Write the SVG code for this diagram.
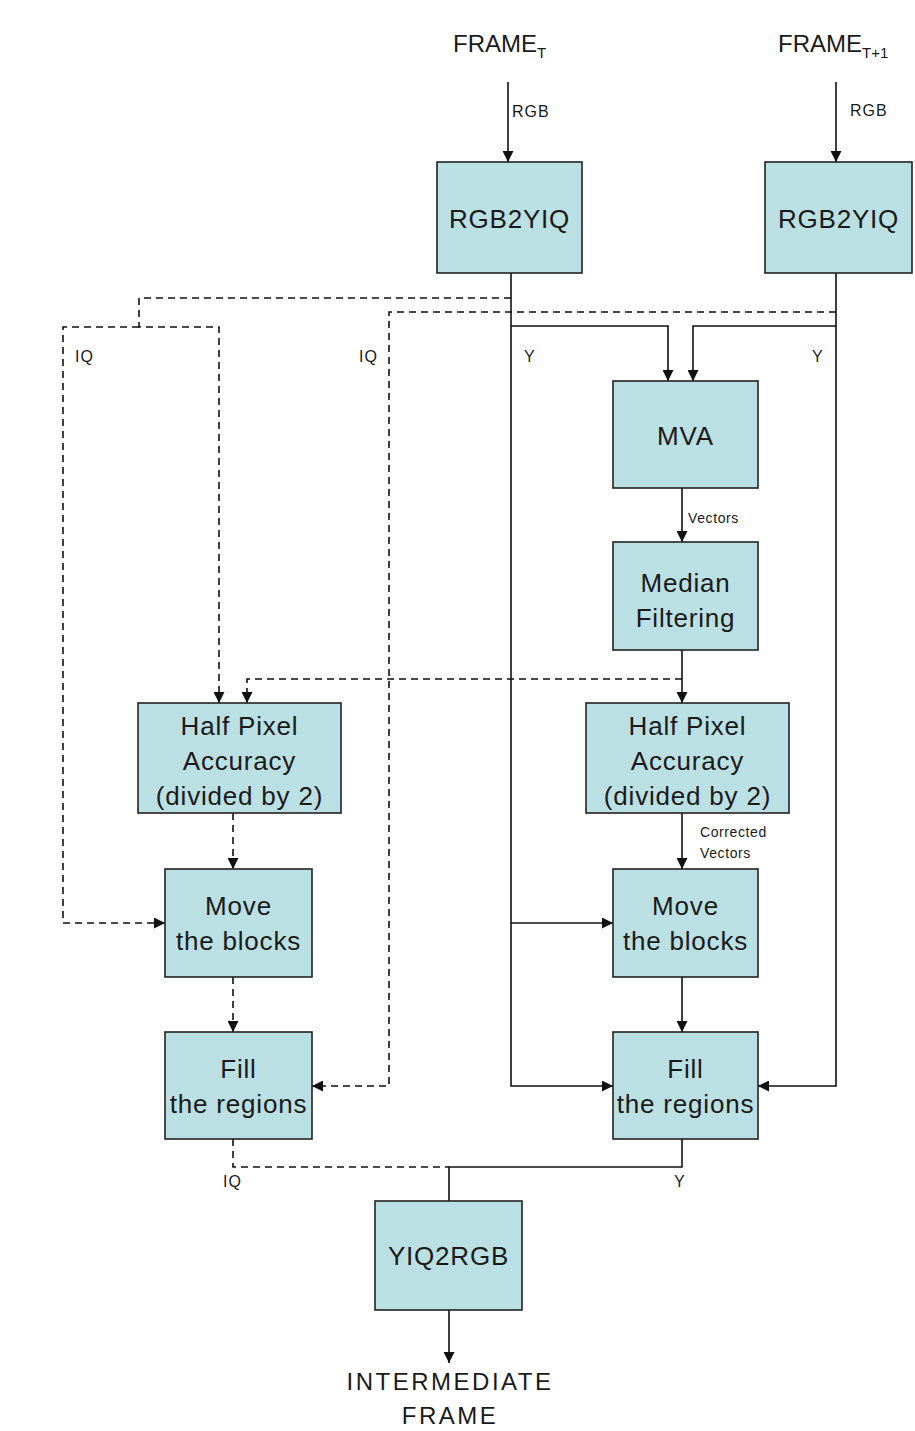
<svg xmlns="http://www.w3.org/2000/svg" width="915" height="1431" viewBox="0 0 915 1431">
<defs>
<marker id="ah" markerUnits="userSpaceOnUse" markerWidth="11" markerHeight="11" refX="11" refY="5.5" orient="auto">
<path d="M0,0 L11,5.5 L0,11 z" fill="#111"/>
</marker>
<style>
.box{fill:#BBE0E3;stroke:#222;stroke-width:1.6}
.bt{font-family:"Liberation Sans",Arial,sans-serif;font-size:26px;fill:#1a1a1a;text-anchor:middle;letter-spacing:0.8px}
.big{font-family:"Liberation Sans",Arial,sans-serif;font-size:24px;fill:#1a1a1a}
.lbl{font-family:"Liberation Sans",Arial,sans-serif;font-size:16px;fill:#1a1a1a;letter-spacing:1px}
.sm{font-family:"Liberation Sans",Arial,sans-serif;font-size:14px;fill:#1a1a1a;letter-spacing:0.6px}
.ln{fill:none;stroke:#111;stroke-width:1.6}
.dl{fill:none;stroke:#111;stroke-width:1.6;stroke-dasharray:7 5}
.arr{marker-end:url(#ah)}
</style>
</defs>
<rect width="915" height="1431" fill="#ffffff"/>

<g id="connectors">
<path class="ln arr" d="M508,82 V162"/>
<path class="ln arr" d="M836,82 V162"/>
<path class="ln arr" d="M511,273 V1086 H613"/>
<path class="ln arr" d="M511,326 H668 V381"/>
<path class="ln arr" d="M511,923 H613"/>
<path class="ln arr" d="M836,273 V1086 H758"/>
<path class="ln arr" d="M836,326 H693 V381"/>
<path class="ln arr" d="M682,488 V542"/>
<path class="ln arr" d="M682,650 V703"/>
<path class="ln arr" d="M682,813 V869"/>
<path class="ln arr" d="M682,977 V1032"/>
<path class="ln" d="M682,1139 V1167 H449 V1201"/>
<path class="ln arr" d="M449,1310 V1363"/>
<path class="dl arr" d="M511,298 H139 V327 H219 V703"/>
<path class="dl arr" d="M139,327 H63 V923 H165"/>
<path class="dl arr" d="M836,312 H389 V1086 H312"/>
<path class="dl arr" d="M682,679 H247 V703"/>
<path class="dl arr" d="M233,813 V869"/>
<path class="dl arr" d="M233,977 V1032"/>
<path class="dl" d="M233,1139 V1167 H449"/>
<text class="lbl" x="512" y="117">RGB</text>
<text class="lbl" x="850" y="116">RGB</text>
<text class="lbl" x="75" y="362">IQ</text>
<text class="lbl" x="359" y="362">IQ</text>
<text class="lbl" x="524" y="362">Y</text>
<text class="lbl" x="812" y="362">Y</text>
<text class="sm" x="688" y="523">Vectors</text>
<text class="sm" x="700" y="837">Corrected</text>
<text class="sm" x="700" y="858">Vectors</text>
<text class="lbl" x="223" y="1187">IQ</text>
<text class="lbl" x="674" y="1187">Y</text>
</g>

<g id="frame-t">
<text class="big" x="453" y="52">FRAME<tspan font-size="15" dy="6">T</tspan></text>
</g>
<g id="frame-t1">
<text class="big" x="778" y="52">FRAME<tspan font-size="15" dy="6">T+1</tspan></text>
</g>

<g id="rgb2yiq-1">
<rect class="box" x="437" y="162" width="145" height="111"/>
<text class="bt" x="509.5" y="228">RGB2YIQ</text>
</g>
<g id="rgb2yiq-2">
<rect class="box" x="765" y="162" width="147" height="111"/>
<text class="bt" x="838.5" y="228">RGB2YIQ</text>
</g>
<g id="mva">
<rect class="box" x="613" y="381" width="145" height="107"/>
<text class="bt" x="685.5" y="445">MVA</text>
</g>
<g id="median">
<rect class="box" x="613" y="542" width="145" height="108"/>
<text class="bt" x="685.5" y="592">Median</text>
<text class="bt" x="685.5" y="627">Filtering</text>
</g>
<g id="halfpixel-left">
<rect class="box" x="138" y="703" width="203" height="110"/>
<text class="bt" x="239.5" y="735">Half Pixel</text>
<text class="bt" x="239.5" y="770">Accuracy</text>
<text class="bt" x="239.5" y="805">(divided by 2)</text>
</g>
<g id="halfpixel-right">
<rect class="box" x="586" y="703" width="203" height="110"/>
<text class="bt" x="687.5" y="735">Half Pixel</text>
<text class="bt" x="687.5" y="770">Accuracy</text>
<text class="bt" x="687.5" y="805">(divided by 2)</text>
</g>
<g id="move-left">
<rect class="box" x="165" y="869" width="147" height="108"/>
<text class="bt" x="238.5" y="915">Move</text>
<text class="bt" x="238.5" y="950">the blocks</text>
</g>
<g id="move-right">
<rect class="box" x="613" y="869" width="145" height="108"/>
<text class="bt" x="685.5" y="915">Move</text>
<text class="bt" x="685.5" y="950">the blocks</text>
</g>
<g id="fill-left">
<rect class="box" x="165" y="1032" width="147" height="107"/>
<text class="bt" x="238.5" y="1078">Fill</text>
<text class="bt" x="238.5" y="1113">the regions</text>
</g>
<g id="fill-right">
<rect class="box" x="613" y="1032" width="145" height="107"/>
<text class="bt" x="685.5" y="1078">Fill</text>
<text class="bt" x="685.5" y="1113">the regions</text>
</g>
<g id="yiq2rgb">
<rect class="box" x="375" y="1201" width="147" height="109"/>
<text class="bt" x="448.5" y="1265">YIQ2RGB</text>
</g>
<g id="output">
<text class="big" x="450" y="1390" text-anchor="middle" letter-spacing="2.5">INTERMEDIATE</text>
<text class="big" x="450" y="1424" text-anchor="middle" letter-spacing="2.5">FRAME</text>
</g>
</svg>
